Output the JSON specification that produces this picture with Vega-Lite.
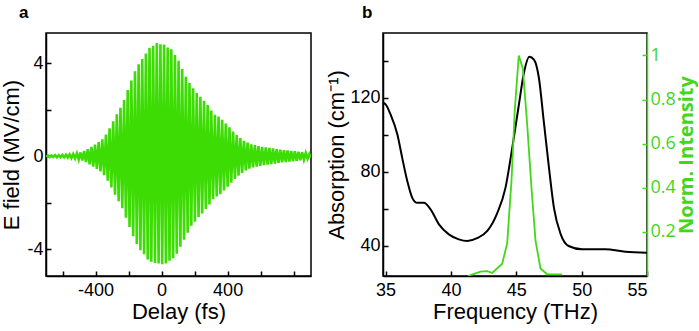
{
  "$schema": "https://vega.github.io/schema/vega-lite/v6.json",
  "padding": {"left": 0, "top": 3, "right": 0, "bottom": 1},
  "spacing": 13,
  "config": {
    "font": "Liberation Sans",
    "view": {"stroke": "black", "strokeWidth": 1.5},
    "axis": {
      "grid": false,
      "domainColor": "black",
      "domainWidth": 1.5,
      "tickColor": "black",
      "tickWidth": 1.5,
      "tickSize": -5,
      "labelFont": "Liberation Sans",
      "labelFontSize": 18,
      "labelColor": "black",
      "titleFont": "Liberation Sans",
      "titleFontSize": 22,
      "titleFontWeight": "normal",
      "titleColor": "black",
      "labelPadding": 10
    },
    "title": {"font": "Liberation Sans", "fontSize": 17, "fontWeight": "bold", "anchor": "start", "frame": "bounds", "baseline": "alphabetic", "color": "black"}
  },
  "datasets": {
    "efield": [
      {"t": -700, "e": -0.03}, {"t": -689, "e": 0.03}, {"t": -678, "e": -0.04}, {"t": -667, "e": 0.03},
      {"t": -656, "e": -0.04}, {"t": -645, "e": 0.04}, {"t": -634, "e": -0.05}, {"t": -623, "e": 0.04},
      {"t": -612, "e": -0.05}, {"t": -601, "e": 0.05}, {"t": -590, "e": -0.05}, {"t": -579, "e": 0.06},
      {"t": -568, "e": -0.06}, {"t": -557, "e": 0.07}, {"t": -546, "e": -0.08}, {"t": -535, "e": 0.09},
      {"t": -524, "e": -0.1}, {"t": -513, "e": 0.12}, {"t": -502, "e": -0.14}, {"t": -491, "e": 0.16},
      {"t": -480, "e": -0.19}, {"t": -469, "e": 0.22}, {"t": -458, "e": -0.26}, {"t": -447, "e": 0.3},
      {"t": -436, "e": -0.35}, {"t": -425, "e": 0.4}, {"t": -414, "e": -0.45}, {"t": -403, "e": 0.5},
      {"t": -392, "e": -0.55}, {"t": -381, "e": 0.6}, {"t": -370, "e": -0.66}, {"t": -359, "e": 0.72},
      {"t": -348, "e": -0.82}, {"t": -337, "e": 0.93}, {"t": -326, "e": -1.06}, {"t": -315, "e": 1.2},
      {"t": -304, "e": -1.35}, {"t": -293, "e": 1.5}, {"t": -282, "e": -1.66}, {"t": -271, "e": 1.8},
      {"t": -260, "e": -1.94}, {"t": -249, "e": 2.08}, {"t": -238, "e": -2.24}, {"t": -227, "e": 2.42},
      {"t": -216, "e": -2.65}, {"t": -205, "e": 2.85}, {"t": -194, "e": -3.05}, {"t": -183, "e": 3.25},
      {"t": -172, "e": -3.45}, {"t": -161, "e": 3.65}, {"t": -150, "e": -3.78}, {"t": -139, "e": 3.95},
      {"t": -128, "e": -4.05}, {"t": -117, "e": 4.18}, {"t": -106, "e": -4.22}, {"t": -95, "e": 4.42},
      {"t": -84, "e": -4.45}, {"t": -73, "e": 4.66}, {"t": -62, "e": -4.55}, {"t": -51, "e": 4.75},
      {"t": -40, "e": -4.6}, {"t": -29, "e": 4.87}, {"t": -18, "e": -4.62}, {"t": -7, "e": 4.82},
      {"t": 4, "e": -4.65}, {"t": 15, "e": 4.8}, {"t": 26, "e": -4.62}, {"t": 37, "e": 4.68},
      {"t": 48, "e": -4.5}, {"t": 59, "e": 4.6}, {"t": 70, "e": -4.4}, {"t": 81, "e": 4.35},
      {"t": 92, "e": -4.2}, {"t": 103, "e": 4.1}, {"t": 114, "e": -3.9}, {"t": 125, "e": 3.75},
      {"t": 136, "e": -3.6}, {"t": 147, "e": 3.42}, {"t": 158, "e": -3.3}, {"t": 169, "e": 3.15},
      {"t": 180, "e": -3.0}, {"t": 191, "e": 2.92}, {"t": 202, "e": -2.82}, {"t": 213, "e": 2.72},
      {"t": 224, "e": -2.62}, {"t": 235, "e": 2.55}, {"t": 246, "e": -2.47}, {"t": 257, "e": 2.38},
      {"t": 268, "e": -2.28}, {"t": 279, "e": 2.2}, {"t": 290, "e": -2.08}, {"t": 301, "e": 1.96},
      {"t": 312, "e": -1.86}, {"t": 323, "e": 1.78}, {"t": 334, "e": -1.74}, {"t": 345, "e": 1.7},
      {"t": 356, "e": -1.64}, {"t": 367, "e": 1.56}, {"t": 378, "e": -1.48}, {"t": 389, "e": 1.4},
      {"t": 400, "e": -1.32}, {"t": 411, "e": 1.24}, {"t": 422, "e": -1.14}, {"t": 433, "e": 1.06},
      {"t": 444, "e": -0.98}, {"t": 455, "e": 0.91}, {"t": 466, "e": -0.84}, {"t": 477, "e": 0.78},
      {"t": 488, "e": -0.72}, {"t": 499, "e": 0.66}, {"t": 510, "e": -0.62}, {"t": 521, "e": 0.58},
      {"t": 532, "e": -0.54}, {"t": 543, "e": 0.51}, {"t": 554, "e": -0.49}, {"t": 565, "e": 0.47},
      {"t": 576, "e": -0.45}, {"t": 587, "e": 0.43}, {"t": 598, "e": -0.42}, {"t": 609, "e": 0.4},
      {"t": 620, "e": -0.39}, {"t": 631, "e": 0.38}, {"t": 642, "e": -0.36}, {"t": 653, "e": 0.35},
      {"t": 664, "e": -0.34}, {"t": 675, "e": 0.33}, {"t": 686, "e": -0.32}, {"t": 697, "e": 0.3},
      {"t": 708, "e": -0.29}, {"t": 719, "e": 0.28}, {"t": 730, "e": -0.27}, {"t": 741, "e": 0.26},
      {"t": 752, "e": -0.25}, {"t": 763, "e": 0.24}, {"t": 774, "e": -0.23}, {"t": 785, "e": 0.22},
      {"t": 796, "e": -0.22}, {"t": 807, "e": 0.21}, {"t": 818, "e": -0.2}, {"t": 829, "e": 0.19},
      {"t": 840, "e": -0.18}, {"t": 851, "e": 0.17}, {"t": 862, "e": -0.15}, {"t": 873, "e": 0.13},
      {"t": 884, "e": -0.11}, {"t": 895, "e": 0.09}, {"t": 905, "e": -0.06}
    ],
    "absorption": [
      {"f": 34.8, "abs": 117.3}, {"f": 35.0, "abs": 116.5}, {"f": 35.38, "abs": 111}, {"f": 35.9, "abs": 100.2},
      {"f": 36.27, "abs": 87.6}, {"f": 36.66, "abs": 75}, {"f": 37.04, "abs": 66}, {"f": 37.42, "abs": 63.3},
      {"f": 37.93, "abs": 63.3}, {"f": 38.44, "abs": 59.8}, {"f": 39.08, "abs": 51.7}, {"f": 39.84, "abs": 46.3},
      {"f": 40.6, "abs": 43.6}, {"f": 41.25, "abs": 42.7}, {"f": 42.0, "abs": 44.2}, {"f": 42.78, "abs": 48.1},
      {"f": 43.5, "abs": 57.1}, {"f": 44.17, "abs": 71.4}, {"f": 44.69, "abs": 93}, {"f": 45.2, "abs": 116.4},
      {"f": 45.58, "abs": 133.4}, {"f": 46.0, "abs": 142.2}, {"f": 46.35, "abs": 140.6}, {"f": 46.73, "abs": 130.7},
      {"f": 47.1, "abs": 107.4}, {"f": 47.5, "abs": 82.2}, {"f": 47.88, "abs": 60.6}, {"f": 48.4, "abs": 46.3},
      {"f": 49.0, "abs": 40}, {"f": 50.04, "abs": 38.2}, {"f": 51.8, "abs": 38.2}, {"f": 53.35, "abs": 36.9},
      {"f": 55, "abs": 36.4}
    ],
    "intensity": [
      {"f": 41.3, "ni": 0.0}, {"f": 41.5, "ni": 0.004}, {"f": 42.26, "ni": 0.02}, {"f": 42.77, "ni": 0.022},
      {"f": 43.15, "ni": 0.014}, {"f": 43.92, "ni": 0.056}, {"f": 44.3, "ni": 0.147}, {"f": 44.63, "ni": 0.43},
      {"f": 44.89, "ni": 0.76}, {"f": 45.19, "ni": 1.0}, {"f": 45.5, "ni": 0.94}, {"f": 45.83, "ni": 0.69},
      {"f": 46.16, "ni": 0.4}, {"f": 46.47, "ni": 0.16}, {"f": 46.85, "ni": 0.034}, {"f": 47.36, "ni": 0.008},
      {"f": 48.5, "ni": 0.007}
    ]
  },
  "hconcat": [
    {
      "title": {"text": "a", "dx": 18, "offset": 11},
      "width": 265,
      "height": 243,
      "data": {"name": "efield"},
      "mark": {"type": "line", "color": "#3ddc05", "strokeWidth": 2.6, "clip": true},
      "encoding": {
        "x": {"field": "t", "type": "quantitative", "scale": {"domain": [-700, 905], "nice": false, "zero": false},
          "axis": {"title": "Delay (fs)", "values": [-600, -400, -200, 0, 200, 400, 600, 800],
            "labelExpr": "abs(datum.value) == 400 || datum.value == 0 ? '' + datum.value : ''", "titlePadding": 2}},
        "y": {"field": "e", "type": "quantitative", "scale": {"domain": [-5.16, 5.3], "nice": false, "zero": false},
          "axis": {"title": "E field (MV/cm)", "values": [-4, -2, 0, 2, 4], "labelPadding": 8,
            "labelExpr": "datum.value % 4 == 0 ? '' + datum.value : ''", "titlePadding": 3}}
      }
    },
    {
      "title": {"text": "b", "dx": 36, "offset": 11},
      "width": 264,
      "height": 243,
      "encoding": {
        "x": {"field": "f", "type": "quantitative", "scale": {"domain": [34.8, 55], "nice": false, "zero": false},
          "axis": {"title": "Frequency (THz)", "values": [35, 40, 45, 50, 55], "titlePadding": 2}}
      },
      "layer": [
        {
          "data": {"name": "absorption"},
          "mark": {"type": "line", "color": "black", "strokeWidth": 2, "interpolate": "monotone", "clip": true},
          "encoding": {
            "y": {"field": "abs", "type": "quantitative", "scale": {"domain": [23.8, 155], "nice": false, "zero": false},
              "axis": {"title": "Absorption (cm⁻¹)", "values": [40, 60, 80, 100, 120, 140], "labelPadding": 8,
                "labelExpr": "datum.value % 40 == 0 ? '' + datum.value : ''", "titlePadding": 1}}
          }
        },
        {
          "data": {"name": "intensity"},
          "mark": {"type": "line", "color": "#44d61a", "strokeWidth": 1.8, "clip": true},
          "encoding": {
            "y": {"field": "ni", "type": "quantitative", "scale": {"domain": [0, 1.102], "nice": false, "zero": false},
              "axis": {"orient": "right", "title": "Norm. Intensity", "values": [0.2, 0.4, 0.6, 0.8, 1], "format": "~g",
                "domainColor": "#44d61a", "tickColor": "#44d61a", "labelColor": "#44d61a", "titleColor": "#44d61a",
                "labelFont": "Open Sans", "titleFont": "Open Sans", "titleFontWeight": "bold", "titleFontSize": 20,
                "labelPadding": 8, "titleAngle": 270, "titleBaseline": "top", "titlePadding": 1}}
          }
        }
      ],
      "resolve": {"scale": {"y": "independent"}, "axis": {"y": "independent"}}
    }
  ]
}
